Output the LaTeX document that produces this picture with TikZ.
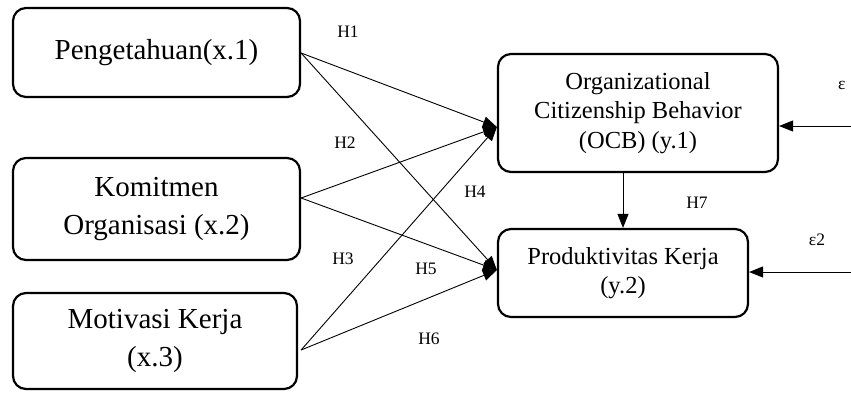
\documentclass[tikz,border=0pt]{standalone}
\usepackage{fontspec}
\setmainfont{Liberation Serif}
\usetikzlibrary{arrows.meta,calc}
\begin{document}
\begin{tikzpicture}[x=1pt,y=-1pt,
  varbox/.style={draw=black,line width=2.2pt,rounded corners=13pt,align=center,inner sep=0pt},
  bigtxt/.style={font=\fontsize{29}{38}\selectfont},
  midtxt/.style={font=\fontsize{24.5}{29.5}\selectfont},
  hlab/.style={font=\fontsize{17.5}{20}\selectfont,inner sep=0pt},
  path/.style={line width=0.9pt,-{Triangle[length=14pt,width=11pt]}}
]
\useasboundingbox (0,0) rectangle (851,392);
\node[varbox,bigtxt,minimum width=287pt,minimum height=89pt] (b1) at (156.5,52.5) {Pengetahuan(x.1)};
\node[varbox,bigtxt,minimum width=287pt,minimum height=102pt] (b2) at (156.5,209) {Komitmen\\Organisasi (x.2)};
\node[varbox,bigtxt,minimum width=284pt,minimum height=96pt] (b3) at (155,341) {Motivasi Kerja\\(x.3)};
\node[varbox,midtxt,minimum width=280pt,minimum height=118pt] (ocb) at (638,113) {Organizational\\Citizenship Behavior\\(OCB) (y.1)};
\node[varbox,midtxt,minimum width=250pt,minimum height=88pt] (prod) at (623,273) {Produktivitas Kerja\\(y.2)};

\coordinate (s1) at ($(b1.east)+(0,0.5)$);
\coordinate (s2) at ($(b2.east)+(0,-11)$);
\coordinate (s3) at ($(b3.east)+(3,9)$);
\coordinate (tO) at ($(ocb.west)+(0,14)$);
\coordinate (tP) at ($(prod.west)+(0,-3)$);

\draw[path] (s1) -- (tO);
\draw[path] (s1) -- (tP);
\draw[path] (s2) -- (tO);
\draw[path] (s2) -- (tP);
\draw[path] (s3) -- (tO);
\draw[path] (s3) -- (tP);
\draw[path] (prod.north |- ocb.south) -- (prod.north);

\coordinate (e1) at (851,126);
\coordinate (e2) at (851,272);
\draw[path] (e1) -- (e1 -| ocb.east);
\draw[path] (e2) -- (e2 -| prod.east);

\node[hlab] (h1) at (348,32) {H1};
\node[hlab] (h2) at (345,143) {H2};
\node[hlab] (h3) at (343,259) {H3};
\node[hlab] (h4) at (475,192) {H4};
\node[hlab] (h5) at (426,269) {H5};
\node[hlab] (h6) at (429,339) {H6};
\node[hlab] (h7) at (697,203) {H7};
\node[hlab,anchor=west] (eps1) at (838,85) {ε};
\node[hlab] (eps2) at (817,240) {ε2};
\end{tikzpicture}
\end{document}
